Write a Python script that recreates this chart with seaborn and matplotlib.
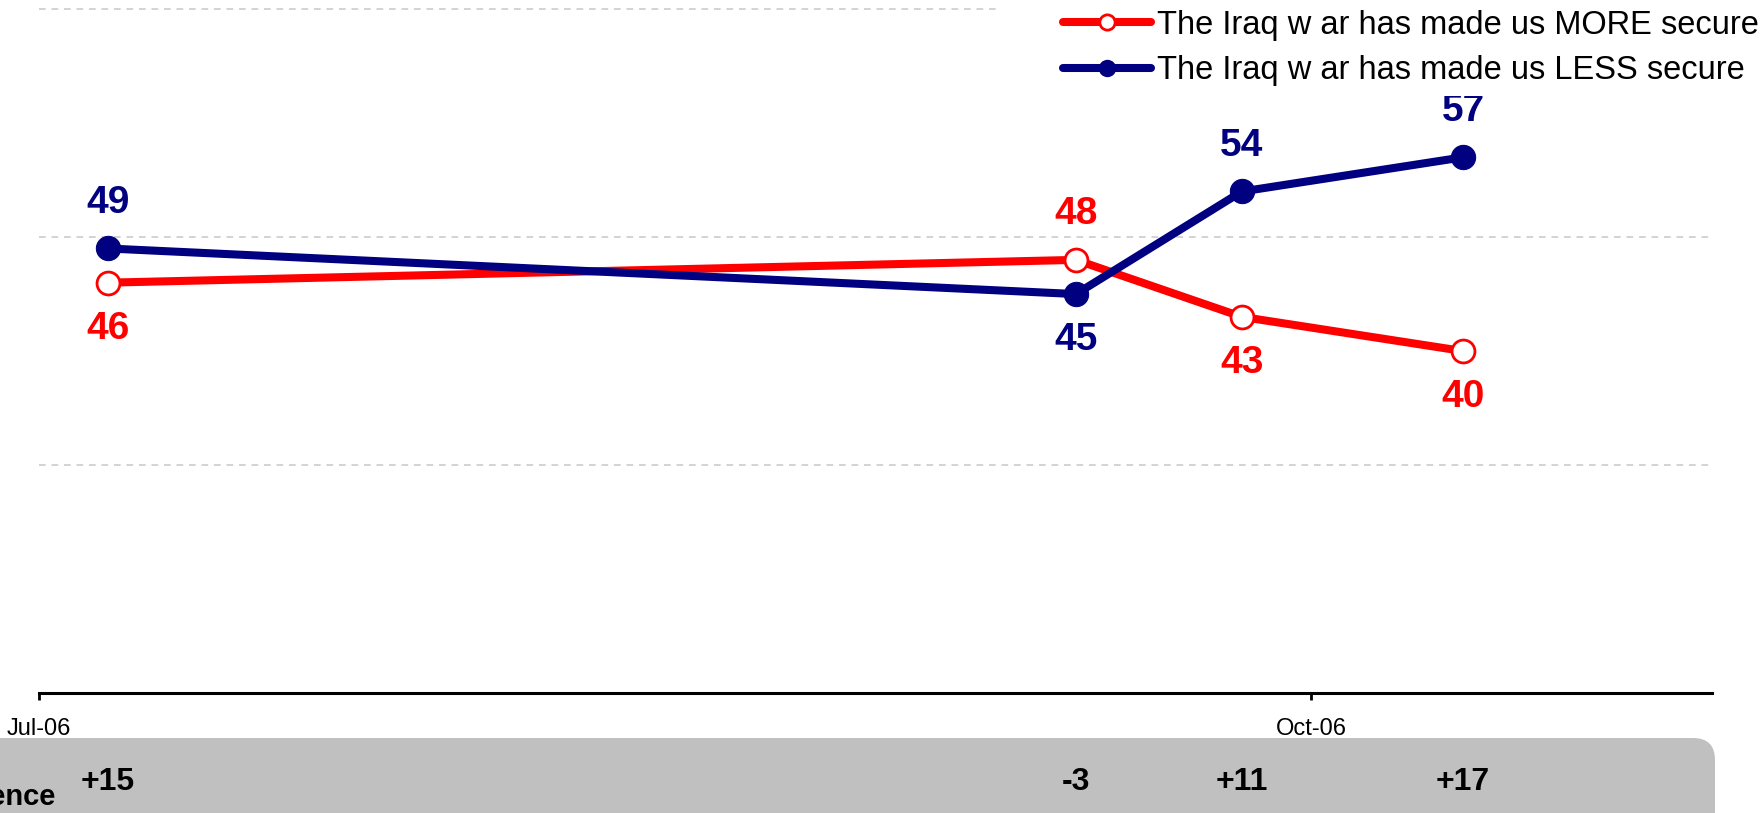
import datetime as dt
import pandas as pd
import matplotlib
matplotlib.use("Agg")
import matplotlib.pyplot as plt
import matplotlib.dates as mdates
from matplotlib.lines import Line2D
from matplotlib.patches import FancyBboxPatch, Rectangle
from matplotlib.transforms import blended_transform_factory
import seaborn as sns

# poll dates and results (%)
dates = pd.to_datetime(["2006-07-06", "2006-09-14", "2006-09-26", "2006-10-12"])
more_secure = [46, 48, 43, 40]
less_secure = [49, 45, 54, 57]
net_diff = ["+15", "-3", "+11", "+17"]
series_names = ["The Iraq w ar has made us MORE secure",
                "The Iraq w ar has made us LESS secure"]

RED = "#FF0000"
NAVY = "#000080"

sns.set_style("white")
plt.rcParams["font.family"] = ["Liberation Sans", "DejaVu Sans"]
plt.rcParams["text.color"] = "black"

fig = plt.figure(figsize=(17.64, 8.13), dpi=100)
ax = fig.add_axes([0.0221, 0.1476, 0.9484, 0.8524])

df = pd.DataFrame({"date": dates, "more": more_secure, "less": less_secure})

sns.lineplot(data=df, x="date", y="more", ax=ax, color=RED, lw=5.8, marker="o",
             markersize=16.5, markerfacecolor="white", markeredgecolor=RED,
             markeredgewidth=2)
sns.lineplot(data=df, x="date", y="less", ax=ax, color=NAVY, lw=5.8, marker="o",
             markersize=17.5, markerfacecolor=NAVY, markeredgecolor=NAVY)

# value labels: higher series above its point, lower one below
xnum = mdates.date2num(dates)
for x, m, l in zip(xnum, more_secure, less_secure):
    for v, other, c in ((m, l, RED), (l, m, NAVY)):
        off = 33 if v > other else -33
        ax.annotate(str(v), (x, v), xytext=(0, off), textcoords="offset points",
                    ha="center", va="center", fontsize=28, fontweight="bold", color=c)

ax.set_xlim(dt.datetime(2006, 7, 1), dt.datetime(2006, 10, 30))
ax.set_ylim(10, 70.8)
ax.set_yticks([30, 50, 70])
ax.tick_params(axis="y", length=0, labelleft=False)
ax.xaxis.set_major_locator(mdates.MonthLocator(bymonth=[1, 4, 7, 10]))
ax.xaxis.set_major_formatter(mdates.DateFormatter("%b-%y"))
ax.tick_params(axis="x", bottom=True, direction="out", length=5, width=2,
               pad=13, labelsize=17, colors="black")
ax.grid(axis="y", color="#cccccc", lw=1.2, linestyle=(0, (4, 3.5)))
ax.grid(axis="x", visible=False)
for s in ["left", "top", "right"]:
    ax.spines[s].set_visible(False)
ax.spines["bottom"].set_linewidth(2.2)
ax.spines["bottom"].set_color("black")
ax.set_xlabel("")
ax.set_ylabel("")

# white area behind legend hides the top gridline
ax.add_patch(Rectangle((1000 / 1764, 0.94), 0.5, 0.1, transform=fig.transFigure,
                       facecolor="white", edgecolor="none", zorder=1))

handles = [
    Line2D([], [], color=RED, lw=5.8, marker="o", markersize=11,
           markerfacecolor="white", markeredgecolor=RED, markeredgewidth=2),
    Line2D([], [], color=NAVY, lw=5.8, marker="o", markersize=11.5,
           markerfacecolor=NAVY, markeredgecolor=NAVY),
]
leg = ax.legend(handles, series_names, loc="upper left",
                bbox_to_anchor=(1053 / 1764, 1.0), bbox_transform=fig.transFigure,
                frameon=True, facecolor="white", edgecolor="none", framealpha=1,
                fontsize=23.5, borderpad=0.3, borderaxespad=0, handlelength=2.7,
                handletextpad=0.2, labelspacing=0.45)
for t in leg.get_texts():
    t.set_color("black")

# grey "net difference" band at the bottom
box = FancyBboxPatch((-1, -1), 18.15, 1.75,
                     boxstyle="round,pad=0,rounding_size=0.22",
                     transform=fig.dpi_scale_trans, facecolor="#C0C0C0",
                     edgecolor="none", zorder=0)
fig.add_artist(box)

tr = blended_transform_factory(ax.transData, fig.transFigure)
for x, s in zip(xnum, net_diff):
    ax.text(x, 0.028, s, transform=tr, ha="center", va="baseline",
            fontsize=23, fontweight="bold", color="black")
fig.text(0.0312, 0.0098, "Net Difference", ha="right", va="baseline",
         fontsize=21, fontweight="bold", color="black")

fig.savefig("out.png", dpi=100)
